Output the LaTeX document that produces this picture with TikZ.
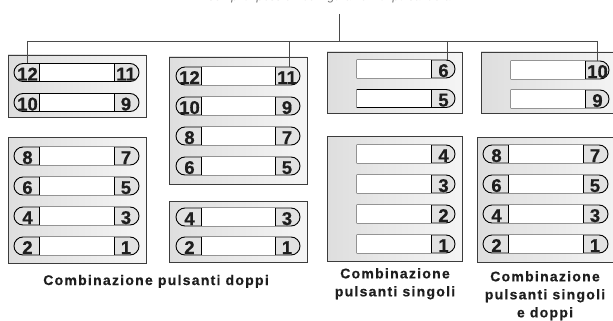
\documentclass[tikz,border=0pt]{standalone}
\usepackage{fontspec}
\setmainfont{Liberation Sans}
\newfontfamily\labfont[LetterSpace=9,FakeBold=0.5]{Liberation Sans Bold}
\newfontfamily\digfont[FakeBold=0.6]{Liberation Sans Bold}
\usetikzlibrary{shapes.misc}
\definecolor{treeC}{HTML}{4A4A4A}
\definecolor{panelB}{HTML}{3C3C3C}
\definecolor{capC}{HTML}{E2E2E2}
\definecolor{txtC}{HTML}{1E1E1E}
\tikzset{
  panel/.style={draw=panelB, line width=0.9pt, left color=black!13, right color=black!4},
  pill/.style={shape=rounded rectangle, draw=black, line width=0.9pt, fill=capC,
    minimum height=18pt, inner sep=0pt, outer sep=0pt},
  pline/.style={draw=black, line width=0.9pt},
  dig/.style={anchor=base, inner sep=0pt, text=txtC, font=\fontsize{18.5}{19}\digfont},
  tree/.style={draw=treeC, line width=0.9pt},
  lab/.style={inner sep=0pt, text=txtC, align=center,
    font=\fontsize{14}{18}\labfont},
  toptext/.style={inner sep=0pt, text=black!55, font=\fontsize{12}{14}\selectfont\itshape}
}
\newcommand\dbtn[6]{%
  \pgfmathsetmacro\bw{#3-#2}\pgfmathsetmacro\bx{(#2+#3)/2}%
  \node[pill, minimum width=\bw pt] (#1) at (\bx,#4+9) {};
  \fill[white] (#2+25,#4+0.45) rectangle (#3-24.5,#4+17.55);
  \draw[pline] (#2+25,#4) -- (#2+25,#4+18) (#3-24.5,#4) -- (#3-24.5,#4+18);
  \node[dig] (#1l) at (#2+13.5,#4+17) {#5};
  \node[dig] (#1r) at (#3-13,#4+17) {#6};
}
\newcommand\sbtn[5]{%
  \pgfmathsetmacro\bw{#3-#2}\pgfmathsetmacro\bx{(#2+#3)/2}%
  \node[pill, rounded rectangle west arc=none, minimum width=\bw pt] (#1) at (\bx,#4+9) {};
  \fill[white] (#2+0.45,#4+0.45) rectangle (#3-24,#4+17.55);
  \draw[pline] (#3-24,#4) -- (#3-24,#4+18);
  \node[dig] (#1d) at (#3-11.5,#4+17) {#5};
}
\begin{document}
\begin{tikzpicture}[x=1pt,y=-1pt]
\useasboundingbox (0,0) rectangle (613,321);
\node[toptext] (top) at (326,-3) {Esempi di possibili configurazioni di pulsantiera};

% panels
\path[panel] (8,55) rectangle (146,117);
\path[panel] (8,137) rectangle (146,263);
\path[panel] (169,57) rectangle (307,184);
\path[panel] (169,201) rectangle (307,262);
\path[panel] (327,52) rectangle (462,113);
\path[panel] (327,136) rectangle (462,261);
\path[panel] (481,52) rectangle (625,113);
\path[panel] (477,137) rectangle (625,262);

% panel 1
\dbtn{pa}{14}{139}{63.5}{12}{11}
\dbtn{pb}{14}{139}{93.5}{10}{9}
\dbtn{pc}{14}{139}{147}{8}{7}
\dbtn{pd}{14}{139}{177}{6}{5}
\dbtn{pe}{14}{139}{207}{4}{3}
\dbtn{pf}{14}{139}{237}{2}{1}
% panel 2
\dbtn{qa}{176}{300}{67}{12}{11}
\dbtn{qb}{176}{300}{97}{10}{9}
\dbtn{qc}{176}{300}{127}{8}{7}
\dbtn{qd}{176}{300}{157}{6}{5}
\dbtn{qe}{176}{300}{208}{4}{3}
\dbtn{qf}{176}{300}{237}{2}{1}
% panel 3
\sbtn{ra}{357}{455}{60}{6}
\sbtn{rb}{357}{455}{89.5}{5}
\sbtn{rc}{357}{455}{145}{4}
\sbtn{rd}{357}{455}{175}{3}
\sbtn{re}{357}{455}{205}{2}
\sbtn{rf}{357}{455}{235}{1}
% panel 4
\sbtn{sa}{511}{609}{61}{10}
\sbtn{sb}{511}{609}{90}{9}
\dbtn{sc}{483}{608}{145}{8}{7}
\dbtn{sd}{483}{608}{175}{6}{5}
\dbtn{se}{483}{608}{205}{4}{3}
\dbtn{sf}{483}{608}{235}{2}{1}

% tree
\coordinate (t0) at (339,14);
\coordinate (tj) at (339,41);
\coordinate (h1) at (27,41);
\coordinate (h2) at (289,41);
\coordinate (h3) at (447,41);
\coordinate (h4) at (597,41);
\draw[tree] (t0) -- (tj);
\draw[tree] (h1) -- (h4);
\draw[tree] (h1) -- (h1 |- pa.north);
\draw[tree] (h2) -- (h2 |- qa.north);
\draw[tree] (h3) -- (h3 |- ra.north);
\draw[tree] (h4) -- (h4 |- sa.north);

% labels
\node[lab, anchor=base] (l1) at (156,285) {Combinazione pulsanti doppi};
\node[lab, anchor=north] (l2) at (395,268) {Combinazione\\pulsanti singoli};
\node[lab, anchor=north] (l3) at (545,271) {Combinazione\\pulsanti singoli\\e doppi};
\end{tikzpicture}
\end{document}
